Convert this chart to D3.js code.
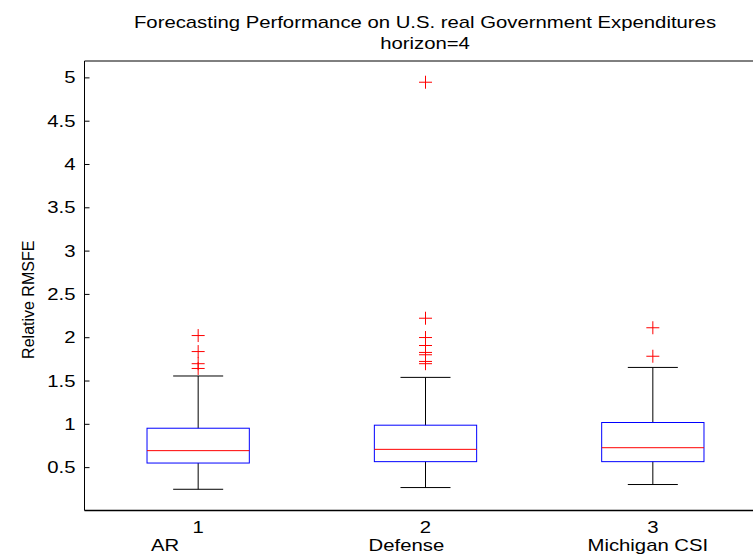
<!DOCTYPE html>
<html><head><meta charset="utf-8">
<script src="https://cdn.jsdelivr.net/npm/d3@7"></script>
<style>html,body{margin:0;padding:0;background:#fff;overflow:hidden}svg{display:block;overflow:hidden}text{font-family:"Liberation Sans",Arial,sans-serif}</style>
</head><body>
<svg id="c" width="753" height="559"></svg>
<script>
const categories = ["AR", "Defense", "Michigan CSI"];
const tickNumbers = ["1", "2", "3"];
const lowerWhisker = [0.25, 0.27, 0.305];
const q1 = [0.553, 0.569, 0.569];
const median = [0.696, 0.711, 0.73];
const q3 = [0.955, 0.99, 1.021];
const upperWhisker = [1.558, 1.542, 1.657];
const outliers = [
  [2.025, 1.84, 1.70, 1.645],
  [4.95, 2.225, 2.002, 1.91, 1.83, 1.803, 1.726, 1.70],
  [2.115, 1.786]
];
const yTicks = [0.5, 1, 1.5, 2, 2.5, 3, 3.5, 4, 4.5, 5];
const titleLines = ["Forecasting Performance on U.S. real Government Expenditures", "horizon=4"];
const yLabel = "Relative RMSFE";

const SX = 1.27; // horizontal stretch of text in the reference
const svg = d3.select("#c");
const root = svg.append("g");
const L = 84.5, T = 61, B = 510.5, R = 766.5, VW = 753;
const x = d3.scaleLinear().domain([0.5, 3.5]).range([L, R]);
const y = d3.scaleLinear().domain([0.005, 5.195]).range([B, T]);
const boxW = 0.45, capW = 0.22;

function htext(px, py, str, anchor) {
  return root.append("g").attr("transform", `translate(${px},${py}) scale(${SX},1)`)
    .append("text").attr("text-anchor", anchor).attr("font-size", 16).attr("fill", "#000")
    .attr("xml:space", "preserve").style("white-space", "pre").text(str);
}

// axes box (right side lies beyond the window)
root.append("line").attr("x1", L).attr("x2", Math.min(R, VW)).attr("y1", T).attr("y2", T).attr("stroke", "#000");
root.append("line").attr("x1", L).attr("x2", Math.min(R, VW)).attr("y1", B).attr("y2", B).attr("stroke", "#000").attr("stroke-width", 1.5);
root.append("line").attr("x1", L).attr("x2", L).attr("y1", T).attr("y2", B).attr("stroke", "#000");

// y ticks (inside) and labels
yTicks.forEach(v => {
  root.append("line").attr("x1", L).attr("x2", L + 5).attr("y1", y(v)).attr("y2", y(v)).attr("stroke", "#000");
  htext(L - 9, y(v) + 5.5, String(v), "end");
});

// x labels
const idx = d3.range(categories.length);
const padded = categories.map(c => c.padEnd(12, "\u00a0"));
idx.forEach(i => {
  htext(x(i + 1), 533, tickNumbers[i], "middle");
  htext(x(i + 1) - 5, 551, padded[i], "middle");
});

// boxes
const g = root.append("g");
idx.forEach(i => {
  const cx = x(i + 1);
  const hw = (x(1 + boxW / 2) - x(1));
  const cw = (x(1 + capW / 2) - x(1));
  g.append("line").attr("x1", cx).attr("x2", cx).attr("y1", y(upperWhisker[i])).attr("y2", y(q3[i])).attr("stroke", "#000");
  g.append("line").attr("x1", cx).attr("x2", cx).attr("y1", y(q1[i])).attr("y2", y(lowerWhisker[i])).attr("stroke", "#000");
  g.append("line").attr("x1", cx - cw).attr("x2", cx + cw).attr("y1", y(upperWhisker[i])).attr("y2", y(upperWhisker[i])).attr("stroke", "#000");
  g.append("line").attr("x1", cx - cw).attr("x2", cx + cw).attr("y1", y(lowerWhisker[i])).attr("y2", y(lowerWhisker[i])).attr("stroke", "#000");
  g.append("rect").attr("x", cx - hw).attr("y", y(q3[i])).attr("width", 2 * hw).attr("height", y(q1[i]) - y(q3[i]))
    .attr("fill", "none").attr("stroke", "#0000ff");
  g.append("line").attr("x1", cx - hw).attr("x2", cx + hw).attr("y1", y(median[i])).attr("y2", y(median[i])).attr("stroke", "#ff0000");
  outliers[i].forEach(v => {
    const py = y(v);
    g.append("path").attr("d", `M${cx - 6.5},${py}H${cx + 6.5}M${cx},${py - 6.5}V${py + 6.5}`).attr("stroke", "#ff0000").attr("fill", "none");
  });
});

// title
htext(425, 28, titleLines[0], "middle");
htext(425, 49, titleLines[1], "middle");

// y label
root.append("text").attr("transform", `translate(34,${(T + B) / 2 + 14}) rotate(-90)`).attr("text-anchor", "middle")
  .attr("font-size", 16).attr("fill", "#000").text(yLabel);
</script>
</body></html>
